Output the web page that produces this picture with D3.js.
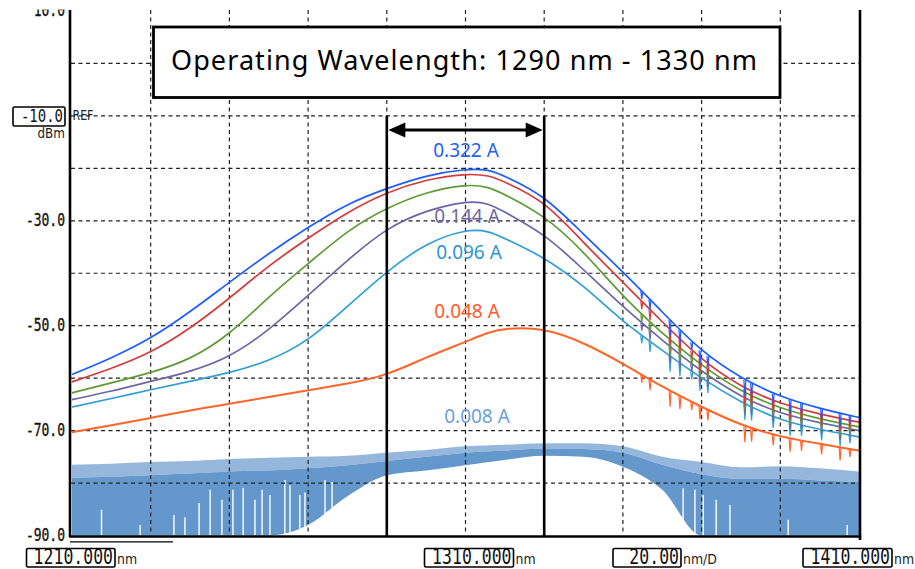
<!DOCTYPE html>
<html>
<head>
<meta charset="utf-8">
<script src="https://cdn.jsdelivr.net/npm/d3@7"></script>
<style>
  html, body { margin: 0; background: #fff; }
  svg { display: block; }
</style>
</head>
<body>
<svg id="chart"></svg>
<script>
// ---- data (nm, dBm) ----
const wavelengths = [1210, 1220, 1230, 1240, 1250, 1260, 1270, 1280, 1290, 1300, 1310, 1316, 1320, 1330, 1340, 1350, 1360, 1370, 1380, 1390, 1400, 1410];

const currents = ["0.322 A", "0.240 A", "0.192 A", "0.144 A", "0.096 A", "0.048 A"];
const colors = ["#1d5cff", "#d53a3a", "#5e9c35", "#6b66a8", "#2f9fd4", "#ff6428"];

const p322 = [-59.3, -56.2, -52.5, -47.4, -41.7, -36.2, -31.2, -26.7, -23.8, -21.3, -20.1, -20.2, -21.5, -25.1, -32.6, -39.7, -47.4, -55.0, -60.0, -63.6, -65.8, -67.5];
const p240 = [-60.7, -58.2, -55.2, -50.6, -44.8, -38.5, -33.3, -28.3, -24.5, -22.1, -21.0, -21.3, -22.6, -26.1, -34.2, -41.7, -49.3, -56.6, -61.7, -64.9, -66.9, -68.4];
const p192 = [-62.8, -60.9, -59.0, -56.5, -51.8, -44.4, -38.2, -31.8, -27.5, -24.5, -23.0, -23.5, -25.0, -28.9, -35.8, -44.5, -51.5, -57.6, -62.6, -65.8, -67.8, -69.3];
const p144 = [-64.1, -62.5, -60.6, -58.8, -56.1, -50.9, -44.2, -37.5, -31.3, -28.0, -26.2, -26.6, -28.4, -32.4, -39.3, -46.4, -52.8, -58.8, -63.6, -66.8, -68.5, -70.0];
const p096 = [-65.5, -63.9, -62.2, -60.6, -59.0, -56.8, -53.0, -46.3, -39.6, -34.2, -31.6, -31.9, -33.4, -36.9, -42.3, -49.3, -54.7, -60.1, -64.6, -68.1, -69.8, -71.2];
const p048 = [-70.3, -69.0, -67.6, -66.1, -64.9, -63.6, -62.3, -61.1, -59.5, -56.0, -53.1, -51.2, -50.5, -50.4, -53.2, -57.2, -61.7, -65.5, -69.0, -71.2, -72.5, -73.8];
const spectra = [p322, p240, p192, p144, p096, p048];

// water-vapour absorption dips seen on the long-wavelength side: [nm, depth dB]
const dips = [[1354.8, 1.5], [1356.9, 2], [1362.0, 3], [1364.5, 2.5], [1367.5, 1.5], [1369.6, 2.5], [1371.6, 2],
              [1381.0, 3], [1382.7, 2.5], [1388.2, 2], [1392.5, 2.5], [1395.4, 2], [1400.5, 2], [1405.2, 2.5], [1407.7, 1.5]];

// 0.008 A trace is mostly noise: spike tops, top of the dense band, lower edge of the fill
const noiseWl    = [1210, 1220, 1230, 1240, 1250, 1260, 1270, 1280, 1290, 1300, 1310, 1320, 1330, 1340, 1350, 1360, 1370, 1380, 1390, 1400, 1410];
const noiseTop   = [-76.5, -76.3, -76.0, -75.8, -75.4, -75.2, -75.0, -74.8, -74.2, -73.7, -73.0, -72.7, -72.4, -72.4, -73.0, -75.0, -76.0, -77.0, -76.8, -77.2, -77.8];
const noiseBody  = [-79.0, -78.8, -78.5, -78.2, -77.8, -77.6, -77.2, -76.6, -75.8, -75.0, -74.2, -73.8, -73.4, -73.5, -74.2, -76.5, -78.3, -79.2, -79.2, -79.5, -79.8];
const noiseFloor = [-90, -90, -90, -90, -90, -90, -88, -82.5, -78.5, -77.6, -76.6, -75.6, -74.8, -75.0, -76.9, -81.3, -90, -90, -90, -90, -90];
// white gaps in the noise fill: [nm, top of gap dB]
const noiseGaps = [[1217.5, -85.1], [1227.3, -88], [1235.9, -86.1], [1238.7, -86.5], [1242.3, -83.8], [1245.1, -81.3],
                   [1248.1, -83.2], [1250.9, -81.3], [1253.5, -80.9], [1256.5, -83.2], [1258.3, -81.3], [1260.3, -82.3],
                   [1264.1, -79.4], [1265.4, -80.4], [1267.9, -82.3], [1269.2, -81.8], [1274.3, -79.4], [1276.1, -79.8],
                   [1365.3, -81.0], [1368.3, -81.3], [1370.4, -82.3], [1373.7, -83.2], [1377.2, -84.2], [1392.0, -87], [1407.0, -88]];

const opRange = [1290, 1330];
const yTicks = [10, -30, -50, -70, -90];
const refLevel = -10;
const bottomLabels = ["1210.000", "1310.000", "20.00", "1410.000"];
const bottomUnits = ["nm", "nm", "nm/D", "nm"];
const title = "Operating Wavelength: 1290 nm - 1330 nm";
const traceLabels = ["0.322 A", "0.144 A", "0.096 A", "0.048 A", "0.008 A"];
const traceLabelColors = ["#2160ff", "#6b68a3", "#2d97cb", "#ff5a2a", "#6b9fd6"];

// ---- layout ----
const W = 915, H = 569;
const x = d3.scaleLinear().domain([1210, 1410]).range([72, 859]);
const y = d3.scaleLinear().domain([-90, 10]).range([535.5, 11]);
const mono = "'DejaVu Sans Mono', 'Liberation Mono', monospace";
const sans = "'Noto Sans', 'Open Sans', sans-serif";
const small = "'DejaVu Sans', sans-serif";

const svg = d3.select("#chart").attr("width", W).attr("height", H).attr("viewBox", `0 0 ${W} ${H}`);

// 0.008 A noise band
const noise = noiseWl.map((wl, i) => ({ wl, top: noiseTop[i], body: noiseBody[i], floor: noiseFloor[i] }));
svg.append("path").datum(noise)
  .attr("d", d3.area().x(d => x(d.wl)).y0(d => y(d.body)).y1(d => y(d.top)).curve(d3.curveMonotoneX))
  .attr("fill", "#6699cc").attr("fill-opacity", 0.7);
svg.append("path").datum(noise)
  .attr("d", d3.area().x(d => x(d.wl)).y0(d => y(d.floor)).y1(d => y(d.body)).curve(d3.curveMonotoneX))
  .attr("fill", "#6497cb");
svg.append("g").selectAll("line")
  .data(noiseGaps).join("line")
  .attr("x1", d => x(d[0])).attr("x2", d => x(d[0]))
  .attr("y1", d => y(d[1])).attr("y2", y(-90))
  .attr("stroke", "#fff").attr("stroke-width", 1.4);

// Grid
const grid = svg.append("g").attr("stroke", "#222").attr("stroke-width", 1.2).attr("stroke-dasharray", "4,3.5");
grid.selectAll(".h").data(d3.range(0, -90, -10)).join("line")
  .attr("x1", 71).attr("x2", 859).attr("y1", d => y(d)).attr("y2", d => y(d));
grid.selectAll(".v").data(d3.range(1230, 1410, 20)).join("line")
  .attr("y1", 10).attr("y2", 535).attr("x1", d => x(d)).attr("x2", d => x(d));

// Spectra, lowest current first so the strongest sits on top
const line = d3.line().x((d, i) => x(wavelengths[i])).y(d => y(d)).curve(d3.curveBasis);
d3.range(spectra.length - 1, -1, -1).forEach(s => {
  const vals = spectra[s];
  svg.append("path").datum(vals)
    .attr("d", line)
    .attr("fill", "none").attr("stroke", colors[s])
    .attr("stroke-width", s === 5 ? 2 : 1.7).attr("stroke-linejoin", "round");
  const at = d3.scaleLinear().domain(wavelengths).range(vals);
  svg.append("path")
    .attr("d", dips.map(([wl, dep]) => `M${x(wl) - 1},${y(at(wl))}L${x(wl)},${y(at(wl) - dep)}L${x(wl) + 1},${y(at(wl))}`).join(""))
    .attr("fill", "none").attr("stroke", colors[s]).attr("stroke-width", 1.2);
});

// Frame
svg.append("line").attr("x1", 70).attr("x2", 70).attr("y1", 10).attr("y2", 537).attr("stroke", "#000").attr("stroke-width", 2.6);
svg.append("line").attr("x1", 860).attr("x2", 860).attr("y1", 10).attr("y2", 540).attr("stroke", "#000").attr("stroke-width", 2.6);
svg.append("line").attr("x1", 69).attr("x2", 861.3).attr("y1", 536.5).attr("y2", 536.5).attr("stroke", "#000").attr("stroke-width", 2.6);
svg.append("line").attr("x1", 70).attr("x2", 173).attr("y1", 541.8).attr("y2", 541.8).attr("stroke", "#000").attr("stroke-width", 1.2);

// Operating range markers
opRange.forEach(wl => {
  svg.append("line").attr("x1", x(wl)).attr("x2", x(wl)).attr("y1", y(refLevel)).attr("y2", 536)
    .attr("stroke", "#000").attr("stroke-width", 2.6);
});
const ay = 130, a0 = x(opRange[0]) + 1.5, a1 = x(opRange[1]) - 1.5;
svg.append("line").attr("x1", a0 + 10).attr("x2", a1 - 10).attr("y1", ay).attr("y2", ay).attr("stroke", "#000").attr("stroke-width", 2.8);
svg.append("polygon").attr("points", `${a0},${ay} ${a0 + 17},${ay - 7.5} ${a0 + 17},${ay + 7.5}`).attr("fill", "#000");
svg.append("polygon").attr("points", `${a1},${ay} ${a1 - 17},${ay - 7.5} ${a1 - 17},${ay + 7.5}`).attr("fill", "#000");

// Title box
svg.append("rect").attr("x", 153.5).attr("y", 27).attr("width", 626.5).attr("height", 70.5)
  .attr("fill", "#fff").attr("stroke", "#000").attr("stroke-width", 2.8);
svg.append("text").attr("x", 171).attr("y", 70)
  .attr("textLength", 586).attr("lengthAdjust", "spacing")
  .style("font-family", sans).style("font-size", "27px").style("fill", "#000")
  .text(title);

// Current labels
const labelPos = [[466, 157], [467, 223], [469, 259], [467, 318], [477, 423]];
traceLabels.forEach((t, i) => {
  svg.append("text").attr("x", labelPos[i][0]).attr("y", labelPos[i][1])
    .attr("text-anchor", "middle")
    .style("font-family", sans).style("font-size", "19px").style("fill", traceLabelColors[i])
    .text(t);
});

// Y tick labels
yTicks.forEach(v => {
  svg.append("text").attr("transform", `translate(65,${y(v) + 5}) scale(1,1.3)`)
    .attr("text-anchor", "end")
    .style("font-family", mono).style("font-size", "13px").style("fill", "#111")
    .style("stroke", "#111").style("stroke-width", 0.25)
    .text(v.toFixed(1));
});

// Reference level box
svg.append("rect").attr("x", 13).attr("y", 107).attr("width", 52).attr("height", 19)
  .attr("fill", "#fff").attr("stroke", "#000").attr("stroke-width", 1.6).attr("rx", 1.5);
svg.append("text").attr("transform", `translate(63,${y(refLevel) + 6}) scale(1,1.3)`)
  .attr("text-anchor", "end")
  .style("font-family", mono).style("font-size", "14px").style("fill", "#111")
  .text(refLevel.toFixed(1));
svg.append("text").attr("transform", "translate(72.5,120) scale(1,1.2)")
  .style("font-family", small).style("font-size", "11px").style("fill", "#222").text("REF");
svg.append("text").attr("transform", "translate(65,137.5) scale(1,1.1)").attr("text-anchor", "end")
  .style("font-family", small).style("font-size", "12px").style("fill", "#222").text("dBm");

// Bottom readouts
const boxLeft = [26.5, 424.5, 613, 803];
const boxW = [88.5, 89, 68, 89];
bottomLabels.forEach((t, i) => {
  svg.append("rect").attr("x", boxLeft[i]).attr("y", 548.5).attr("width", boxW[i]).attr("height", 18.5)
    .attr("fill", "#fff").attr("stroke", "#000").attr("stroke-width", 1.6).attr("rx", 1.5);
  svg.append("text").attr("transform", `translate(${boxLeft[i] + boxW[i] - 2},564) scale(1,1.25)`)
    .attr("text-anchor", "end")
    .style("font-family", mono).style("font-size", "16.5px").style("fill", "#111")
    .text(t);
  svg.append("text").attr("transform", `translate(${boxLeft[i] + boxW[i] + 2},563.5) scale(1,1.1)`)
    .style("font-family", small).style("font-size", "12.5px").style("fill", "#222")
    .text(bottomUnits[i]);
});

// screenshot is cropped just above the top of the graticule
svg.append("rect").attr("x", 0).attr("y", 0).attr("width", W).attr("height", 9.5).attr("fill", "#fff");
</script>
</body>
</html>
